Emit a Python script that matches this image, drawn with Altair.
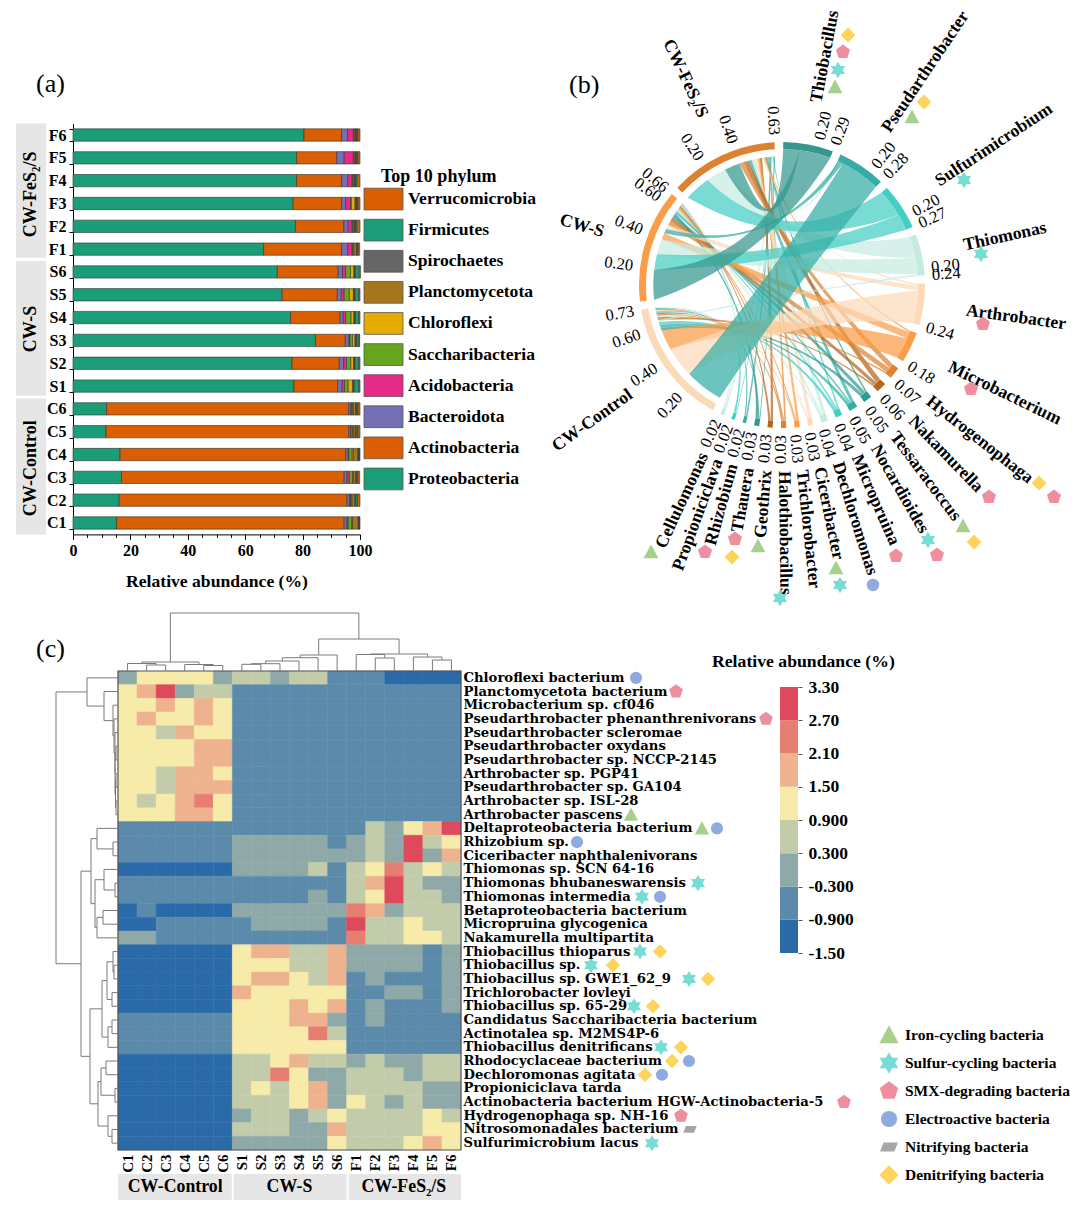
import math
import altair as alt
import pandas as pd

alt.data_transformers.disable_max_rows()

# ---------- Panel (a) data ----------
SAMPLES = ["F6","F5","F4","F3","F2","F1","S6","S5","S4","S3","S2","S1","C6","C5","C4","C3","C2","C1"]
PHYLA_STACK = ["Proteobacteria","Actinobacteria","Bacteroidota","Acidobacteria","Saccharibacteria",
               "Chloroflexi","Planctomycetota","Spirochaetes","Firmicutes","Verrucomicrobia"]
PHYLA_COLORS = ["#1b9e77","#d95f02","#7570b3","#e7298a","#66a61e","#e6ab02","#a6761d","#666666","#1b9e77","#d95f02"]
PROTEO = [80.5,77.9,77.9,76.7,77.5,66.4,71.2,72.9,75.8,84.5,76.3,77,11.7,11.5,16.4,16.9,16.1,15.2]
ACTINO = [13.1,14,15.7,16.9,16.9,27.2,21.2,19.2,17.3,10.4,16.5,15.2,84.4,84.6,78.6,77.6,79.4,79.3]
BACTERO = [2.1,2.6,2.1,1.4,1.5,2.1,1.5,1.4,1.1,1.3,1.5,1.6,.8,.7,.9,1,1,1]
ACIDO = [2,3.2,1.6,1.7,1.4,1.6,1.1,1,.8,.3,1,.8,.1,.1,.2,.8,.1,.4]
SACCH = [.3,.3,.3,.3,.3,.3,1.7,1.8,1.9,.9,1.5,1.3,.4,.5,1.2,1.1,.3,1.2]
CHLORO = [.3,.3,.3,1.3,.3,.3,1.2,1.4,1,.9,1,1.6,.3,.3,.4,.3,.3,.3]
PLANCT = [.3,.3,.3,.3,.3,.9,.2,.3,.2,.3,.2,.2,.8,.7,1.6,.8,1,2]
SPIRO = [.3]*18
FIRMI = [.4,.4,.5,.4,.5,.3,1.3,1.3,1.2,.8,1.3,1.6,.5,.6,.2,.5,.6,.1]
VERRU = [.7,.7,1,.7,1,.5,.5,.4,.4,.2,.4,.4,.7,.7,.2,.6,.9,.2]
PHYLA_LEGEND = ["Verrucomicrobia","Firmicutes","Spirochaetes","Planctomycetota","Chloroflexi",
                "Saccharibacteria","Acidobacteria","Bacteroidota","Actinobacteria","Proteobacteria"]
PHYLA_LEGEND_COLORS = ["#d95f02","#1b9e77","#666666","#a6761d","#e6ab02","#66a61e","#e7298a","#7570b3","#d95f02","#1b9e77"]

# ---------- Panel (b) data ----------
GENERA = ["Thiobacillus","Pseudarthrobacter","Sulfurimicrobium","Thiomonas","Arthrobacter","Microbacterium",
          "Hydrogenophaga","Nakamurella","Tessaracoccus","Nocardioides","Micropruina","Dechloromonas",
          "Ciceribacter","Trichlorobacter","Halothiobacillus","Geothrix","Thauera","Rhizobium","Propioniciclava","Cellulomonas"]
GENUS_TOTAL = [.29,.28,.27,.24,.24,.18,.07,.06,.05,.05,.04,.04,.03,.03,.03,.03,.03,.02,.02,.02]
GENUS_COLOR = ["#36978f","#35ada5","#45cfc4","#c5ebe0","#fcd9b8","#fb9d48","#dc8230","#b5651d",
               "#2f9a8f","#33aea5","#45cfc4","#c3ebdf","#fcd9b8","#fb9d48","#dc8230","#b5651d","#2f9a8f","#33aea5","#45cfc4","#c3ebdf"]
GENUS_TICKS = [[.2,.29],[.2,.28],[.2,.27],[.2,.24],[.24],[.18],[.07],[.06],[.05],[.05],[.04],[.04],[.03],[.03],[.03],[.03],[.03],[.02],[.02],[.02]]
GROUPS = ["CW-Control","CW-S","CW-FeS\u2082/S"]
GROUP_TOTAL = [.73,.66,.63]
GROUP_COLOR = ["#fcd9b8","#fb9d48","#dc8230"]
GROUP_TICKS = [[.2,.4,.6,.73],[.2,.4,.6,.66],[.2,.4,.63]]
FLOW_F = [.10,.005,.17,.13,.01,.01,.03,.03,.01,.02,.01,.02,.02,.015,.01,.015,.005,.01,.005,.01]
FLOW_S = [.19,.03,.10,.10,.03,.04,.03,.02,.02,.01,.01,.01,.005,.01,.01,.01,.015,.005,.005,.005]
FLOW_C = [0,.245,0,.01,.20,.13,.01,.01,.02,.02,.02,.01,.005,.005,.01,.005,.01,.005,.01,.005]

# ---------- Panel (c) data ----------
COLUMNS = ["C1","C2","C3","C4","C5","C6","S1","S2","S3","S4","S5","S6","F1","F2","F3","F4","F5","F6"]
ROWS = ["Chloroflexi bacterium","Planctomycetota bacterium","Microbacterium sp. cf046",
 "Pseudarthrobacter phenanthrenivorans","Pseudarthrobacter scleromae","Pseudarthrobacter oxydans",
 "Pseudarthrobacter sp. NCCP-2145","Arthrobacter sp. PGP41","Pseudarthrobacter sp. GA104","Arthrobacter sp. ISL-28",
 "Arthrobacter pascens","Deltaproteobacteria bacterium","Rhizobium sp.","Ciceribacter naphthalenivorans",
 "Thiomonas sp. SCN 64-16","Thiomonas bhubaneswarensis","Thiomonas intermedia","Betaproteobacteria bacterium",
 "Micropruina glycogenica","Nakamurella multipartita","Thiobacillus thioparus","Thiobacillus sp.",
 "Thiobacillus sp. GWE1_62_9","Trichlorobacter lovleyi","Thiobacillus sp. 65-29","Candidatus Saccharibacteria bacterium",
 "Actinotalea sp. M2MS4P-6","Thiobacillus denitrificans","Rhodocyclaceae bacterium","Dechloromonas agitata",
 "Propioniciclava tarda","Actinobacteria bacterium HGW-Actinobacteria-5","Hydrogenophaga sp. NH-16",
 "Nitrosomonadales bacterium","Sulfurimicrobium lacus"]
LEVEL_MID = [-1.2,-.6,0,.6,1.2,1.8,2.4,3.0]
LEVEL_COLORS = ["#2a6aa8","#5b8aab","#8fa9a8","#c3ccaa","#f6eba8","#eeb28e","#e67e72","#de4a5b"]
LEVEL_EDGES = [-1.5,-.9,-.3,.3,.9,1.5,2.1,2.7,3.3]
HEAT = [
 [2,4,4,4,4,2, 3,3,2,3,3,1, 1,1,0,0,0,0],
 [4,5,7,2,3,3, 1,1,1,1,1,1, 1,1,1,1,1,1],
 [4,4,5,4,5,4, 1,1,1,1,1,1, 1,1,1,1,1,1],
 [4,5,4,4,5,4, 1,1,1,1,1,1, 1,1,1,1,1,1],
 [4,4,3,5,4,4, 1,1,1,1,1,1, 1,1,1,1,1,1],
 [4,4,4,4,5,5, 1,1,1,1,1,1, 1,1,1,1,1,1],
 [4,4,4,4,5,5, 1,1,1,1,1,1, 1,1,1,1,1,1],
 [4,4,3,5,5,4, 1,1,1,1,1,1, 1,1,1,1,1,1],
 [4,4,3,5,5,5, 1,1,1,1,1,1, 1,1,1,1,1,1],
 [4,3,4,5,6,4, 1,1,1,1,1,1, 1,1,1,1,1,1],
 [4,4,4,5,5,4, 1,1,1,1,1,1, 1,1,1,1,1,1],
 [1,1,1,1,1,1, 1,1,1,1,1,1, 1,3,2,4,5,7],
 [1,1,1,1,1,1, 2,2,2,2,2,1, 2,3,2,7,3,4],
 [1,1,1,1,1,1, 2,2,2,2,2,2, 2,3,2,7,2,5],
 [0,0,0,0,0,0, 2,2,2,2,3,1, 3,4,6,3,4,3],
 [1,1,1,1,1,1, 1,1,1,1,1,1, 3,5,7,3,2,2],
 [1,1,1,1,1,1, 1,1,1,1,2,1, 3,4,7,3,3,2],
 [0,1,0,0,0,0, 2,2,2,2,2,2, 6,5,2,3,3,3],
 [0,0,1,1,1,1, 1,2,2,2,2,1, 7,3,3,4,3,3],
 [2,2,1,1,1,1, 1,1,1,1,1,1, 6,3,3,4,4,3],
 [0,0,0,0,0,0, 4,5,5,3,3,5, 2,2,2,2,1,2],
 [0,0,0,0,0,0, 4,4,4,3,3,5, 2,2,2,2,1,2],
 [0,0,0,0,0,0, 4,5,5,4,3,5, 1,2,1,1,1,2],
 [0,0,0,0,0,0, 5,4,4,4,4,4, 1,1,2,2,1,2],
 [0,0,0,0,0,0, 4,4,4,5,4,5, 1,2,1,1,1,2],
 [1,1,1,1,1,1, 4,4,4,5,5,2, 1,2,1,1,1,1],
 [1,1,1,1,1,1, 4,4,4,4,6,3, 1,1,1,1,1,1],
 [1,1,1,1,1,1, 4,4,4,4,4,4, 1,1,1,1,1,1],
 [0,0,0,0,0,0, 3,3,4,5,3,3, 2,3,2,2,3,3],
 [0,0,0,0,0,0, 3,3,6,4,2,2, 3,3,3,2,3,3],
 [0,0,0,0,0,0, 3,4,3,4,5,2, 3,3,3,3,2,2],
 [0,0,0,0,0,0, 3,3,3,4,5,2, 4,3,2,3,2,2],
 [0,0,0,0,0,0, 2,3,3,2,3,4, 3,3,3,3,4,3],
 [0,0,0,0,0,0, 3,3,3,2,2,5, 3,3,3,3,4,4],
 [0,0,0,0,0,0, 2,2,2,2,2,4, 3,3,3,4,5,4],
]
# dendrograms: (height, left, right) with leaf = position index
T_C = (9,(7.5,0,(6,1,2)),(6.5,3,(5.5,4,5)))
T_S = (16,(13.3,(10,(7.3,(6.7,6,7),8),9),10),11)
T_F = (17,(16.5,12,(13,13,14)),(14,15,(11,16,17)))
TOP_TREE = (58,T_C,(32,T_S,T_F))
L_A = (31,0,(14,1,(5,2,(4,3,(3,4,(3,(2,5,6),(2.5,(2,7,8),(2,9,10))))))))
L_B = (27,(21,11,(5,12,13)),(23,(14,14,(3,15,16)),(21,(15,17,18),19)))
L_C = (28,(16,(11,(5,20,(4,21,22)),(6,23,24)),(10,(6,25,26),27)),(20,(17,(12,28,29),(3,30,31)),(10,32,(6,33,34))))
LEFT_TREE = (62,L_A,(37,L_B,L_C))

TYPE_NAMES = ["Iron-cycling bacteria","Sulfur-cycling bacteria","SMX-degrading bacteria","Electroactive bacteria","Nitrifying bacteria","Denitrifying bacteria"]

# ---------- Styling / layout ----------
W, H = 1064, 1193
def X(p): return p - 8
def Y(p): return p - 8
SERIF = "Liberation Serif"
SHAPE = {
 "tri": "M0,-1L1,0.85L-1,0.85Z",
 "star": "M0,-1L0.3,-0.5L0.87,-0.5L0.58,0L0.87,0.5L0.3,0.5L0,1L-0.3,0.5L-0.87,0.5L-0.58,0L-0.87,-0.5L-0.3,-0.5Z",
 "pent": "M0,-1L0.95,-0.31L0.59,0.81L-0.59,0.81L-0.95,-0.31Z",
 "circ": "circle",
 "para": "M-0.6,-0.5L1,-0.5L0.6,0.5L-1,0.5Z",
 "dia": "M0,-1L1,0L0,1L-1,0Z",
}
SHAPE_COLOR = {"tri":"#a8d08d","star":"#76dcd4","pent":"#ef8e9e","circ":"#8eaadf","para":"#a9a5a5","dia":"#ffd35c"}
SHAPE_SIZE = {"tri":220,"star":270,"pent":220,"circ":155,"para":190,"dia":220}

layers = []

def px_text(items, size=14, weight="bold", align="left", color="black"):
    df = pd.DataFrame([{"x":X(a),"y":Y(b),"t":t,"angle":ang%360} for a,b,t,ang in items])
    return alt.Chart(df).mark_text(font=SERIF,fontSize=size,fontWeight=weight,align=align,baseline="middle",color=color).encode(
        x=alt.X("x:Q",scale=None,axis=None), y=alt.Y("y:Q",scale=None,axis=None),
        text="t:N", angle=alt.Angle("angle:Q",scale=None))

def px_markers(items, scale=1.0):
    rows = [{"x":X(a),"y":Y(b),"s":SHAPE[k],"c":SHAPE_COLOR[k],"z":SHAPE_SIZE[k]*scale} for a,b,k in items]
    return alt.Chart(pd.DataFrame(rows)).mark_point(filled=True,opacity=1,strokeWidth=0).encode(
        x=alt.X("x:Q",scale=None,axis=None), y=alt.Y("y:Q",scale=None,axis=None),
        shape=alt.Shape("s:N",scale=None), color=alt.Color("c:N",scale=None), size=alt.Size("z:Q",scale=None))

# panel letters
layers.append(px_text([(36,84,"(a)",0),(569,85,"(b)",0),(36,649,"(c)",0)],size=26,weight="normal"))

# ---------- Panel (a) ----------
stack_series = [PROTEO,ACTINO,BACTERO,ACIDO,SACCH,CHLORO,PLANCT,SPIRO,FIRMI,VERRU]
rows_a = [{"sample":s,"phylum":p,"value":ser[i],"o":j} for j,(p,ser) in enumerate(zip(PHYLA_STACK,stack_series)) for i,s in enumerate(SAMPLES)]
XA = alt.Scale(domain=[0,100],range=[X(73),X(360)],nice=False,zero=False)
YA = alt.Scale(domain=SAMPLES,range=[Y(123.6),Y(534.4)],paddingInner=0.46,paddingOuter=0.23)
strip_a = pd.DataFrame({"y0":[0,6.02,12.05],"y1":[5.88,11.92,18.0],"g":["CW-FeS\u2082/S","CW-S","CW-Control"],"m":[3.1,9.0,15.1]})
YA_Q = alt.Scale(domain=[0,18],range=[Y(123.6),Y(534.4)],nice=False,zero=False)
layers.append(alt.Chart(strip_a).mark_rect(color="#e6e6e6").encode(
    x=alt.value(X(16)),x2=alt.value(X(46)),
    y=alt.Y("y0:Q",scale=YA_Q,axis=None),y2="y1:Q"))
layers.append(alt.Chart(strip_a).mark_text(font=SERIF,fontSize=18,fontWeight="bold",angle=270,color="black").encode(
    x=alt.value(X(31)),y=alt.Y("m:Q",scale=YA_Q,axis=None),text="g:N"))
layers.append(alt.Chart(pd.DataFrame(rows_a)).mark_bar(stroke="#333333",strokeWidth=0.6).encode(
    x=alt.X("value:Q",stack="zero",scale=XA,
        axis=alt.Axis(orient="bottom",offset=Y(534.4)-H,values=list(range(0,101,20)),tickSize=5,tickColor="black",domainColor="black",grid=False,
            labelFont=SERIF,labelFontSize=16,labelFontWeight="bold",labelColor="black",labelPadding=3,labelFlush=False,labelBound=False,
            title="Relative abundance (%)",titleFont=SERIF,titleFontSize=17.6,titleFontWeight="bold",titleColor="black",titlePadding=14,format="d")),
    y=alt.Y("sample:N",sort=None,scale=YA,
        axis=alt.Axis(orient="left",offset=-X(73),title=None,tickBand="extent",tickSize=4,tickColor="black",domainColor="black",grid=False,
            labelFont=SERIF,labelFontSize=16,labelFontWeight="bold",labelColor="black",labelPadding=3)),
    color=alt.Color("phylum:N",scale=alt.Scale(domain=PHYLA_STACK,range=PHYLA_COLORS),legend=None),
    order=alt.Order("o:Q")))
layers.append(alt.Chart(pd.DataFrame({"v":list(range(0,101,5))})).mark_point(opacity=0).encode(
    x=alt.X("v:Q",scale=XA,axis=alt.Axis(orient="bottom",offset=Y(534.4)-H,values=list(range(0,101,5)),tickSize=3,tickColor="black",labels=False,domain=False,title=None,grid=False))))
YL = alt.Scale(domain=PHYLA_LEGEND,range=[Y(183.5),Y(494.5)],paddingInner=0.3,paddingOuter=0.15)
df_l = pd.DataFrame({"p":PHYLA_LEGEND,"c":PHYLA_LEGEND_COLORS})
layers.append(alt.Chart(df_l).mark_rect(stroke="#555555",strokeWidth=0.8).encode(
    x=alt.value(X(364)),x2=alt.value(X(403)),
    y=alt.Y("p:N",sort=None,scale=YL,axis=None),color=alt.Color("c:N",scale=None)))
layers.append(alt.Chart(df_l).mark_text(font=SERIF,fontSize=17.6,fontWeight="bold",align="left",color="black").encode(
    x=alt.value(X(408)),y=alt.Y("p:N",sort=None,scale=YL,axis=None),text="p:N"))
layers.append(px_text([(381,177,"Top 10 phylum",0)],size=18))

# ---------- Panel (b) ----------
CX, CY, R = 782, 285, 143
UNIT, GAP = 70.0, 3.35
XB = alt.Scale(domain=[-1,1],range=[X(CX-R),X(CX+R)],nice=False,zero=False)
YB = alt.Scale(domain=[-1,1],range=[Y(CY+R),Y(CY-R)],nice=False,zero=False)
def pol(t,r):
    a=math.radians(t); return r*math.sin(a), r*math.cos(a)
sector = {}
t = 0.5
for g,v in zip(GENERA,GENUS_TOTAL):
    sector[g]=(t,t+v*UNIT); t+=v*UNIT+GAP
for g,v in zip(GROUPS,GROUP_TOTAL):
    sector[g]=(t,t+v*UNIT); t+=v*UNIT+GAP
flows = {"CW-FeS\u2082/S":FLOW_F,"CW-S":FLOW_S,"CW-Control":FLOW_C}
genus_span = {}
for i,g in enumerate(GENERA):
    t0=sector[g][0]; sumv=FLOW_F[i]+FLOW_S[i]+FLOW_C[i]; k=(GENUS_TOTAL[i]/sumv)*UNIT
    for name in ["CW-FeS\u2082/S","CW-S","CW-Control"]:
        v=flows[name][i]
        genus_span[(g,name)]=(t0,t0+v*k); t0+=v*k
group_span = {}
for gi,name in enumerate(GROUPS):
    vals=flows[name]; idx=sorted(range(20),key=lambda j:-vals[j])
    k=GROUP_TOTAL[gi]/sum(vals)*UNIT; t0=sector[name][0]
    for j in idx:
        if vals[j]<=0: continue
        group_span[(GENERA[j],name)]=(t0,t0+vals[j]*k); t0+=vals[j]*k
RG, RS = 0.95, 0.90
def bez(p0,p1,n=20):
    mx=(p0[0]+p1[0])*0.5; my=(p0[1]+p1[1])*0.5
    f=0.18+(1-min(1,math.hypot(mx,my)/RS))*0.5
    cx=mx*f; cy=my*f
    out=[]
    for i in range(n+1):
        u=i/n
        out.append(((1-u)**2*p0[0]+2*u*(1-u)*cx+u*u*p1[0],(1-u)**2*p0[1]+2*u*(1-u)*cy+u*u*p1[1]))
    return out
def arcpts(t0,t1,r,n=6):
    return [pol(t0+(t1-t0)*i/n,r) for i in range(n+1)]
ribbon_rows=[]
rid=0
for gi,g in reversed(list(enumerate(GENERA))):
    for name in GROUPS:
        if (g,name) not in group_span: continue
        a0,a1=genus_span[(g,name)]; b0,b1=group_span[(g,name)]
        pts=bez(pol(a0,RG),pol(b1,RS))+arcpts(b1,b0,RS)+bez(pol(b0,RS),pol(a1,RG))+arcpts(a1,a0,RG)
        for o,(px,py) in enumerate(pts):
            ribbon_rows.append({"id":rid,"o":o,"x":px,"y":py,"c":GENUS_COLOR[gi]})
        rid+=1
layers.append(alt.Chart(pd.DataFrame(ribbon_rows)).mark_line(filled=True,strokeWidth=0,opacity=0.72).encode(
    x=alt.X("x:Q",scale=XB,axis=None),y=alt.Y("y:Q",scale=YB,axis=None),
    order=alt.Order("o:Q"),detail="id:N",fill=alt.Fill("c:N",scale=None)))
ring=[{"t0":math.radians(sector[g][0]),"t1":math.radians(sector[g][1]),"c":c} for g,c in zip(GENERA+GROUPS,GENUS_COLOR+GROUP_COLOR)]
layers.append(alt.Chart(pd.DataFrame(ring)).mark_arc(radius=R,radius2=R-7).encode(
    x=alt.value(X(CX)),y=alt.value(Y(CY)),
    theta=alt.Theta("t0:Q",scale=None),theta2="t1:Q",color=alt.Color("c:N",scale=None)))
tick_rows=[]
for g,ticks in zip(GENERA+GROUPS,GENUS_TICKS+GROUP_TICKS):
    for v in ticks:
        tt=sector[g][0]+v*UNIT
        tick_rows.append((tt,1.05,f"{v:.2f}"))
name_rows=[]
for g in GENERA+GROUPS:
    m=(sector[g][0]+sector[g][1])/2
    name_rows.append((m,1.30,g))
def radial(rows,size,weight):
    out=[]
    for side,al in (("R","left"),("L","right")):
        recs=[]
        for tt,r,txt in rows:
            right = (tt%360)<180
            if right != (side=="R"): continue
            px,py=pol(tt,r)
            recs.append({"x":px,"y":py,"t":txt,"angle":(tt-90 if right else tt+90)%360})
        if not recs: continue
        out.append(alt.Chart(pd.DataFrame(recs)).mark_text(font=SERIF,fontSize=size,fontWeight=weight,align=al,baseline="middle",color="black").encode(
            x=alt.X("x:Q",scale=XB,axis=None),y=alt.Y("y:Q",scale=YB,axis=None),text="t:N",angle=alt.Angle("angle:Q",scale=None)))
    return out
layers+=radial(tick_rows,16.5,"normal")
layers+=radial(name_rows,17.7,"bold")
CHORD_MARKERS=[(835,87,"tri"),(838,70,"star"),(843,52,"pent"),(848,35,"dia"),(912,117,"tri"),(924,102,"dia"),
 (964,180,"star"),(981,254,"star"),(983,324,"pent"),(971,389,"pent"),(1039,483,"dia"),(1054,497,"pent"),(989,497,"pent"),
 (963,526,"tri"),(974,542,"dia"),(928,540,"star"),(937,555,"pent"),(896,556,"pent"),(873,585,"circ"),(836,568,"tri"),
 (840,585,"star"),(780,598,"star"),(735,539,"pent"),(732,557,"dia"),(758,546,"tri"),(705,552,"pent"),(651,552,"tri")]
layers.append(px_markers(CHORD_MARKERS))

# ---------- Panel (c) ----------
HL,HR,HT,HB = 118,461,671,1150
rows_h=[{"r":r,"c":c,"v":LEVEL_MID[HEAT[i][j]]} for i,r in enumerate(ROWS) for j,c in enumerate(COLUMNS)]
COLSCALE=alt.Scale(type="threshold",domain=LEVEL_EDGES[1:-1],range=LEVEL_COLORS)
layers.append(alt.Chart(pd.DataFrame(rows_h)).mark_rect(strokeWidth=0.5).encode(
    x=alt.X("c:N",sort=None,scale=alt.Scale(domain=COLUMNS,range=[X(HL),X(HR)],paddingInner=0,paddingOuter=0),
        axis=alt.Axis(orient="bottom",offset=Y(HB)-H,title=None,labelAngle=270,ticks=False,domain=False,grid=False,
            labelFont=SERIF,labelFontSize=15,labelFontWeight="bold",labelColor="black",labelPadding=4)),
    y=alt.Y("r:N",sort=None,scale=alt.Scale(domain=ROWS,range=[Y(HT),Y(HB)],paddingInner=0,paddingOuter=0),
        axis=alt.Axis(orient="right",offset=X(HR)-W,title=None,ticks=False,domain=False,grid=False,labelLimit=600,labelOverlap=False,
            labelFont="DejaVu Serif",labelFontSize=13.2,labelFontWeight="bold",labelColor="black",labelPadding=2)),
    color=alt.Color("v:Q",scale=COLSCALE,legend=None),
    stroke=alt.Stroke("v:Q",scale=COLSCALE,legend=None)))
XHQ=alt.Scale(domain=[0,18],range=[X(HL),X(HR)],nice=False,zero=False)
YHQ=alt.Scale(domain=[0,35],range=[Y(HT),Y(HB)],nice=False,zero=False)
layers.append(alt.Chart(pd.DataFrame({"x0":[0],"x1":[18],"y0":[0],"y1":[35]})).mark_rect(fill=None,fillOpacity=0,stroke="#555555",strokeWidth=1.2).encode(
    x=alt.X("x0:Q",scale=XHQ,axis=None),x2="x1:Q",y=alt.Y("y0:Q",scale=YHQ,axis=None),y2="y1:Q"))
def walk(node,segs):
    if isinstance(node,int):
        return node+0.5,0
    h,a,b=node
    pa,ha=walk(a,segs); pb,hb=walk(b,segs)
    segs.append((pa,ha,pa,h)); segs.append((pb,hb,pb,h)); segs.append((pa,h,pb,h))
    return (pa+pb)/2,h
st=[]; walk(TOP_TREE,st)
layers.append(alt.Chart(pd.DataFrame(st,columns=["p0","h0","p1","h1"])).mark_rule(color="#7a7a7a",strokeWidth=1).encode(
    x=alt.X("p0:Q",scale=XHQ,axis=None),x2="p1:Q",
    y=alt.Y("h0:Q",scale=alt.Scale(domain=[0,58],range=[Y(HT),Y(613)],nice=False,zero=False),axis=None),y2="h1:Q"))
sl=[]; walk(LEFT_TREE,sl)
layers.append(alt.Chart(pd.DataFrame(sl,columns=["p0","h0","p1","h1"])).mark_rule(color="#7a7a7a",strokeWidth=1).encode(
    y=alt.Y("p0:Q",scale=YHQ,axis=None),y2="p1:Q",
    x=alt.X("h0:Q",scale=alt.Scale(domain=[0,62],range=[X(HL),X(56)],nice=False,zero=False),axis=None),x2="h1:Q"))
strip_c=pd.DataFrame({"x0":[0,6.07,12.1],"x1":[5.97,12.0,18.0],"g":["CW-Control","CW-S","CW-FeS\u2082/S"],"m":[3,9,15]})
layers.append(alt.Chart(strip_c).mark_rect(color="#e6e6e6").encode(
    x=alt.X("x0:Q",scale=XHQ,axis=None),x2="x1:Q",y=alt.value(Y(1174)),y2=alt.value(Y(1200))))
layers.append(alt.Chart(strip_c).mark_text(font=SERIF,fontSize=17.8,fontWeight="bold",color="black").encode(
    x=alt.X("m:Q",scale=XHQ,axis=None),y=alt.value(Y(1187)),text="g:N"))
ROW_MARKERS=[(0,636,"circ"),(1,676,"pent"),(3,766,"pent"),(10,631,"tri"),(11,702,"tri"),(11,717,"circ"),(12,577,"circ"),
 (15,698,"star"),(16,642,"star"),(16,660,"circ"),(20,640,"star"),(20,660,"dia"),(21,591,"star"),(21,613,"dia"),
 (22,689,"star"),(22,708,"dia"),(24,634,"star"),(24,653,"dia"),(27,661,"star"),(27,681,"dia"),(28,672,"dia"),(28,689,"circ"),
 (29,645,"dia"),(29,662,"circ"),(31,844,"pent"),(32,681,"pent"),(33,690,"para"),(34,652,"star")]
rm=[{"x":X(a),"r":i+0.5,"s":SHAPE[k],"c":SHAPE_COLOR[k],"z":SHAPE_SIZE[k]*0.95} for i,a,k in ROW_MARKERS]
layers.append(alt.Chart(pd.DataFrame(rm)).mark_point(filled=True,opacity=1,strokeWidth=0).encode(
    x=alt.X("x:Q",scale=None,axis=None),y=alt.Y("r:Q",scale=YHQ,axis=None),
    shape=alt.Shape("s:N",scale=None),color=alt.Color("c:N",scale=None),size=alt.Size("z:Q",scale=None)))
cb=pd.DataFrame({"lo":LEVEL_EDGES[:-1],"hi":LEVEL_EDGES[1:],"v":LEVEL_MID})
layers.append(alt.Chart(cb).mark_rect().encode(
    x=alt.value(X(780)),x2=alt.value(X(798)),
    y=alt.Y("lo:Q",scale=alt.Scale(domain=[-1.5,3.3],range=[Y(953),Y(687)],nice=False,zero=False),
        axis=alt.Axis(orient="right",offset=X(798)-W,values=LEVEL_EDGES,title=None,domain=False,grid=False,tickSize=4,tickColor="#555555",
            labelExpr="replace(format(datum.value,'.3r'),'\u2212','-')",labelOverlap=False,labelBound=False,labelFlush=False,
            labelFont=SERIF,labelFontSize=17.5,labelFontWeight="bold",labelColor="black",labelPadding=6)),
    y2="hi:Q",color=alt.Color("v:Q",scale=COLSCALE,legend=None)))
layers.append(px_text([(712,662,"Relative abundance (%)",0)],size=17.7))
KEYS=["tri","star","pent","circ","para","dia"]
YF=alt.Scale(domain=TYPE_NAMES,range=[Y(1021),Y(1189)],paddingInner=0,paddingOuter=0)
df_f=pd.DataFrame({"n":TYPE_NAMES,"s":[SHAPE[k] for k in KEYS],"c":[SHAPE_COLOR[k] for k in KEYS],"z":[SHAPE_SIZE[k]*1.7 for k in KEYS]})
layers.append(alt.Chart(df_f).mark_point(filled=True,opacity=1,strokeWidth=0).encode(
    x=alt.value(X(889)),y=alt.Y("n:N",sort=None,scale=YF,axis=None),
    shape=alt.Shape("s:N",scale=None),color=alt.Color("c:N",scale=None),size=alt.Size("z:Q",scale=None)))
layers.append(alt.Chart(df_f).mark_text(font=SERIF,fontSize=15.5,fontWeight="bold",align="left",color="black").encode(
    x=alt.value(X(905)),y=alt.Y("n:N",sort=None,scale=YF,axis=None),text="n:N"))

chart = alt.layer(*layers).resolve_scale(x="independent",y="independent",color="independent").properties(
    width=W,height=H,padding=0,autosize=alt.AutoSizeParams(type="none",contains="padding")
).configure_view(stroke=None)
chart.save("out.html", embed_options={"renderer":"svg","actions":False})
